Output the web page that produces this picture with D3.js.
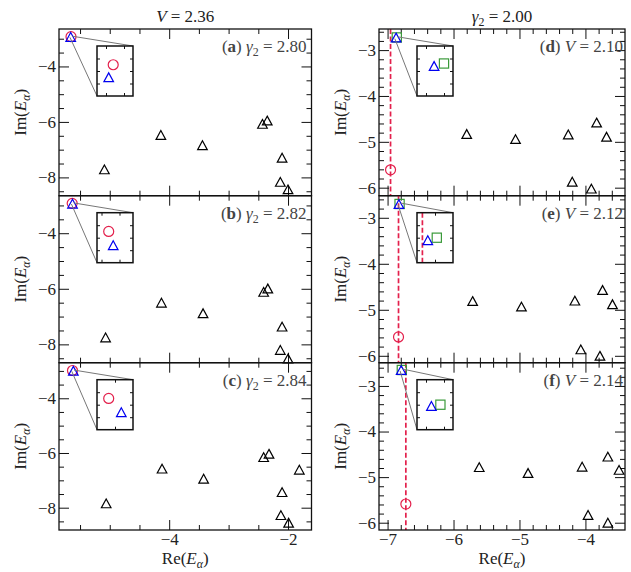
<!DOCTYPE html>
<html>
<head>
<meta charset="utf-8">
<script src="https://cdn.jsdelivr.net/npm/d3@7"></script>
<style>
body { margin: 0; background: #fff; }
text { font-family: "Liberation Serif", "DejaVu Serif", serif; fill: #222; }
.tick text { font-size: 17px; }
.tick line { stroke: #111; }
</style>
</head>
<body>
<div id="chart"></div>
<script>

// ---- data ----
var panelIds = ["a", "b", "c", "d", "e", "f"];
var panelVals = ["2.80", "2.82", "2.84", "2.10", "2.12", "2.14"];

// black triangles (bulk eigenvalues), one list per panel
var blackRe = [
    [-5.09, -4.14, -3.44, -2.43, -2.35, -2.10, -2.13, -2.00],
    [-5.07, -4.13, -3.43, -2.41, -2.34, -2.10, -2.13, -2.00],
    [-5.06, -4.12, -3.42, -2.41, -2.32, -1.81, -2.10, -2.12, -1.99],
    [-5.80, -5.06, -4.26, -3.83, -3.68, -4.20, -3.91],
    [-5.71, -4.97, -4.16, -3.74, -3.59, -4.07, -3.78],
    [-5.61, -4.87, -4.05, -3.66, -3.49, -3.96, -3.66]
];
var blackIm = [
    [-7.71, -6.47, -6.84, -6.07, -5.95, -7.29, -8.16, -8.43],
    [-7.75, -6.50, -6.88, -6.11, -5.99, -7.36, -8.20, -8.51],
    [-7.84, -6.57, -6.94, -6.15, -6.03, -6.61, -7.43, -8.27, -8.55],
    [-4.83, -4.94, -4.84, -4.58, -4.89, -5.87, -6.02],
    [-4.81, -4.93, -4.80, -4.57, -4.88, -5.86, -6.00],
    [-4.78, -4.91, -4.77, -4.55, -4.84, -5.83, -6.00]
];

// red circles, blue triangles, green squares (null = not shown)
var redRe   = [-5.652, -5.632, -5.627, -6.955, -6.834, -6.723];
var redIm   = [-2.925, -2.925, -2.985, -5.61, -5.59, -5.59];
var blueRe  = [-5.657, -5.627, -5.613, -6.871, -6.828, -6.794];
var blueIm  = [-2.935, -2.936, -2.996, -2.726, -2.702, -2.651];
var greenRe = [null, null, null, -6.860, -6.818, -6.784];
var greenIm = [null, null, null, -2.724, -2.700, -2.650];

// inset windows (lower Re, upper Im) and span
var insetReLo = [-5.67, -5.645, -5.64, -6.89, -6.84, -6.81];
var insetImHi = [-2.91, -2.91, -2.97, -2.71, -2.68, -2.63];
var insetSpan = 0.04;

// axis ranges and ticks
var xDoms = [[-5.854, -1.605], [-7.13, -3.40]];
var yDoms = [[-8.66, -2.65], [-8.66, -2.65], [-8.815, -2.70],
             [-6.175, -2.54], [-6.15, -2.52], [-6.16, -2.49]];
var xMajor = [[-4, -2], [-7, -6, -5, -4]];
var yMajor = [[-8, -6, -4], [-6, -5, -4, -3]];
var minorStep = [0.5, 0.2];

// ---- layout ----
var width = 631, height = 572;
var colX = [[59, 311.5], [379, 625]];
var rowY = [[29, 195.7], [195.7, 362.7], [362.7, 530]];
var red = "#e3204c", blue = "#0000f0", green = "#3a9a3a";
var intFmt = d3.format("d");

var svg = d3.select("#chart").append("svg")
    .attr("width", width)
    .attr("height", height);

// math text helper: parts = [text, {i:true}, {sub:true}, {b:true}]
function mathText(sel, parts, size) {
    sel.attr("font-size", size);
    var shift = 0;
    parts.forEach(function(p) {
        var t = sel.append("tspan").text(p.t);
        if (p.i) t.attr("font-style", "italic");
        if (p.b) t.attr("font-weight", "bold");
        if (p.sub) {
            t.attr("font-size", size * 0.7).attr("dy", size * 0.25);
            shift = size * 0.25;
        } else if (shift) {
            t.attr("dy", -shift);
            shift = 0;
        }
    });
}

function triPath(s) {
    var w = 4.8 * s, h = 4.4 * s;
    return "M0," + (-h) + "L" + w + "," + h + "L" + (-w) + "," + h + "Z";
}

function drawMarkers(g, xs, ys, i) {
    g.append("g").selectAll("path")
        .data(d3.range(blackRe[i].length))
        .enter().append("path")
        .attr("d", triPath(1))
        .attr("transform", function(k) { return "translate(" + xs(blackRe[i][k]) + "," + ys(blackIm[i][k]) + ")"; })
        .attr("fill", "none").attr("stroke", "#000").attr("stroke-width", 1.2);

    if (greenRe[i] !== null) {
        g.append("rect")
            .attr("x", xs(greenRe[i]) - 4.6).attr("y", ys(greenIm[i]) - 4.6)
            .attr("width", 9.2).attr("height", 9.2)
            .attr("fill", "none").attr("stroke", green).attr("stroke-width", 1.2);
    }
    g.append("circle")
        .attr("cx", xs(redRe[i])).attr("cy", ys(redIm[i])).attr("r", 5)
        .attr("fill", "none").attr("stroke", red).attr("stroke-width", 1.2);
    g.append("path")
        .attr("d", triPath(1))
        .attr("transform", "translate(" + xs(blueRe[i]) + "," + ys(blueIm[i]) + ")")
        .attr("fill", "none").attr("stroke", blue).attr("stroke-width", 1.2);
}

function minorTicks(dom, step, major) {
    var lo = Math.min(dom[0], dom[1]), hi = Math.max(dom[0], dom[1]);
    return d3.range(Math.ceil(lo / step) * step, hi, step)
        .map(function(v) { return Math.round(v * 100) / 100; })
        .filter(function(v) { return major.indexOf(v) < 0; });
}

function noLabel() { return ""; }

panelIds.forEach(function(id, i) {
    var col = i < 3 ? 0 : 1, row = i % 3;
    var X0 = colX[col][0], X1 = colX[col][1], Y0 = rowY[row][0], Y1 = rowY[row][1];

    var x = d3.scaleLinear().domain(xDoms[col]).range([X0, X1]);
    var y = d3.scaleLinear().domain(yDoms[i]).range([Y1, Y0]);

    var g = svg.append("g").attr("class", "panel-" + id);

    var xMin = minorTicks(xDoms[col], minorStep[col], xMajor[col]);
    var yMin = minorTicks(yDoms[i], minorStep[col], yMajor[col]);

    // x axes (inward ticks, top and bottom)
    g.append("g").attr("transform", "translate(0," + Y1 + ")")
        .call(d3.axisBottom(x).tickValues(xMajor[col]).tickSize(-10).tickPadding(3)
            .tickFormat(row === 2 ? intFmt : noLabel));
    g.append("g").attr("transform", "translate(0," + Y1 + ")")
        .call(d3.axisBottom(x).tickValues(xMin).tickSize(-5).tickFormat(noLabel));
    g.append("g").attr("transform", "translate(0," + Y0 + ")")
        .call(d3.axisTop(x).tickValues(xMajor[col]).tickSize(-10).tickFormat(noLabel));
    g.append("g").attr("transform", "translate(0," + Y0 + ")")
        .call(d3.axisTop(x).tickValues(xMin).tickSize(-5).tickFormat(noLabel));

    // y axes
    g.append("g").attr("transform", "translate(" + X0 + ",0)")
        .call(d3.axisLeft(y).tickValues(yMajor[col]).tickSize(-10).tickPadding(3).tickFormat(intFmt));
    g.append("g").attr("transform", "translate(" + X0 + ",0)")
        .call(d3.axisLeft(y).tickValues(yMin).tickSize(-5).tickFormat(noLabel));
    g.append("g").attr("transform", "translate(" + X1 + ",0)")
        .call(d3.axisRight(y).tickValues(yMajor[col]).tickSize(-10).tickFormat(noLabel));
    g.append("g").attr("transform", "translate(" + X1 + ",0)")
        .call(d3.axisRight(y).tickValues(yMin).tickSize(-5).tickFormat(noLabel));

    g.selectAll(".domain").remove();

    // dashed vertical line through the red circle (right column)
    if (col === 1) {
        g.append("line")
            .attr("x1", x(redRe[i])).attr("x2", x(redRe[i]))
            .attr("y1", Y0).attr("y2", Y1)
            .attr("stroke", red).attr("stroke-width", 1.7)
            .attr("stroke-dasharray", "5,2.5");
    }

    drawMarkers(g, x, y, i);

    // frame
    g.append("rect")
        .attr("x", X0).attr("y", Y0)
        .attr("width", X1 - X0).attr("height", Y1 - Y0)
        .attr("fill", "none").attr("stroke", "#111").attr("stroke-width", 1.3);

    // inset
    var ix0 = X0 + 38, iy0 = Y0 + 17, iw = 36, ih = 50;
    var lo = insetReLo[i], hi = insetImHi[i];
    var ix = d3.scaleLinear().domain([lo, lo + insetSpan]).range([ix0, ix0 + iw]);
    var iy = d3.scaleLinear().domain([hi - insetSpan, hi]).range([iy0 + ih, iy0]);

    g.append("line")
        .attr("x1", x(lo + insetSpan)).attr("y1", y(hi))
        .attr("x2", ix0 + iw).attr("y2", iy0)
        .attr("stroke", "#777").attr("stroke-width", 1);
    g.append("line")
        .attr("x1", x(lo)).attr("y1", y(hi - insetSpan))
        .attr("x2", ix0).attr("y2", iy0 + ih)
        .attr("stroke", "#777").attr("stroke-width", 1);

    var ins = g.append("g").attr("class", "inset");
    ins.append("rect")
        .attr("x", ix0).attr("y", iy0).attr("width", iw).attr("height", ih)
        .attr("fill", "#fff");

    svg.append("clipPath").attr("id", "clip-" + id)
        .append("rect").attr("x", ix0).attr("y", iy0).attr("width", iw).attr("height", ih);
    var inner = ins.append("g").attr("clip-path", "url(#clip-" + id + ")");

    if (col === 1 && redRe[i] > lo && redRe[i] < lo + insetSpan) {
        inner.append("line")
            .attr("x1", ix(redRe[i])).attr("x2", ix(redRe[i]))
            .attr("y1", iy0).attr("y2", iy0 + ih)
            .attr("stroke", red).attr("stroke-width", 1.7)
            .attr("stroke-dasharray", "5,2.5");
    }
    drawMarkers(inner, ix, iy, i);

    var ixt = ix.ticks(2).filter(function(v) { return ix(v) > ix0 + 1 && ix(v) < ix0 + iw - 1; });
    var iyt = iy.ticks(4).filter(function(v) { return iy(v) > iy0 + 1 && iy(v) < iy0 + ih - 1; });
    ins.append("g").attr("transform", "translate(0," + (iy0 + ih) + ")")
        .call(d3.axisBottom(ix).tickValues(ixt).tickSize(-3).tickFormat(noLabel));
    ins.append("g").attr("transform", "translate(0," + iy0 + ")")
        .call(d3.axisTop(ix).tickValues(ixt).tickSize(-3).tickFormat(noLabel));
    ins.append("g").attr("transform", "translate(" + ix0 + ",0)")
        .call(d3.axisLeft(iy).tickValues(iyt).tickSize(-3).tickFormat(noLabel));
    ins.append("g").attr("transform", "translate(" + (ix0 + iw) + ",0)")
        .call(d3.axisRight(iy).tickValues(iyt).tickSize(-3).tickFormat(noLabel));
    ins.selectAll(".domain").remove();
    ins.append("rect")
        .attr("x", ix0).attr("y", iy0).attr("width", iw).attr("height", ih)
        .attr("fill", "none").attr("stroke", "#111").attr("stroke-width", 1.5);

    // panel label
    var lab = g.append("text")
        .attr("x", col === 0 ? X1 - 5 : X1 - 2)
        .attr("y", Y0 + 23)
        .attr("text-anchor", "end")
        .style("fill", "#444");
    var parts = col === 0
        ? [{t: "("}, {t: id, b: true}, {t: ") "}, {t: "γ", i: true}, {t: "2", sub: true}, {t: " = " + panelVals[i]}]
        : [{t: "("}, {t: id, b: true}, {t: ") "}, {t: "V", i: true}, {t: " = " + panelVals[i]}];
    mathText(lab, parts, 17);

    // y-axis label
    var yl = g.append("text")
        .attr("transform", "translate(" + (col === 0 ? 21 : 341) + "," + ((Y0 + Y1) / 2) + ") rotate(-90)")
        .attr("text-anchor", "middle")
        .attr("dy", "0.3em");
    mathText(yl, [{t: "Im("}, {t: "E", i: true}, {t: "α", i: true, sub: true}, {t: ")"}], 17);

    // x-axis label
    if (row === 2) {
        var xl = g.append("text")
            .attr("x", (X0 + X1) / 2)
            .attr("y", 564)
            .attr("text-anchor", "middle");
        mathText(xl, [{t: "Re("}, {t: "E", i: true}, {t: "α", i: true, sub: true}, {t: ")"}], 17);
    }
});

// column titles
var t1 = svg.append("text").attr("x", (colX[0][0] + colX[0][1]) / 2).attr("y", 22).attr("text-anchor", "middle");
mathText(t1, [{t: "V", i: true}, {t: " = 2.36"}], 17);
var t2 = svg.append("text").attr("x", (colX[1][0] + colX[1][1]) / 2).attr("y", 22).attr("text-anchor", "middle");
mathText(t2, [{t: "γ", i: true}, {t: "2", sub: true}, {t: " = 2.00"}], 17);

</script>
</body>
</html>
